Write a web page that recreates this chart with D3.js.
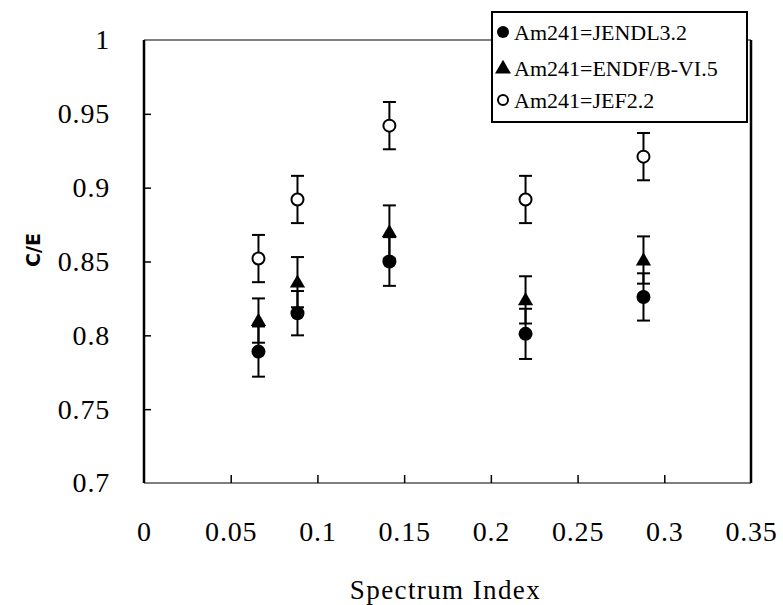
<!DOCTYPE html>
<html>
<head>
<meta charset="utf-8">
<script src="https://cdn.jsdelivr.net/npm/d3@7"></script>
<style>
  body { margin: 0; background: #fff; }
  svg { display: block; }
</style>
</head>
<body>
<svg id="chart" width="783" height="605"></svg>
<script>
  'use strict'

  // data
  var spectrumIndex = [0.066, 0.0885, 0.1415, 0.220, 0.288]
  var jendl = [0.789, 0.815, 0.850, 0.801, 0.826]
  var jendlErr = [0.017, 0.015, 0.0165, 0.017, 0.016]
  var endf = [0.810, 0.836, 0.870, 0.824, 0.851]
  var endfErr = [0.015, 0.017, 0.018, 0.016, 0.016]
  var jef = [0.852, 0.892, 0.942, 0.892, 0.921]
  var jefErr = [0.016, 0.016, 0.016, 0.016, 0.016]
  var xTicks = [0, 0.05, 0.1, 0.15, 0.2, 0.25, 0.3, 0.35]
  var yTicks = [0.7, 0.75, 0.8, 0.85, 0.9, 0.95, 1]
  var seriesNames = ['Am241=JENDL3.2', 'Am241=ENDF/B-VI.5', 'Am241=JEF2.2']

  var series = [
    { name: seriesNames[0], values: jendl, err: jendlErr, marker: 'dot' },
    { name: seriesNames[1], values: endf, err: endfErr, marker: 'tri' },
    { name: seriesNames[2], values: jef, err: jefErr, marker: 'ring' }
  ]

  var margin = { top: 40, right: 32, bottom: 122, left: 144 }
  var svg = d3.select('#chart')
  var width = 783 - margin.left - margin.right
  var height = 605 - margin.top - margin.bottom

  var x = d3.scaleLinear().domain([0, 0.35]).range([0, width])
  var y = d3.scaleLinear().domain([0.7, 1]).range([height, 0])

  var g = svg.append('g').attr('transform', 'translate(' + margin.left + ',' + margin.top + ')')

  var tickFont = '"Liberation Serif", "Times New Roman", serif'
  function fmt (d) { return String(d) }

  // frame: heavy sides, thin greyish top/bottom
  g.append('line').attr('x1', 0).attr('x2', width).attr('y1', 0).attr('y2', 0)
    .attr('stroke', '#555').attr('stroke-width', 1.5)
  g.append('line').attr('x1', 0).attr('x2', width).attr('y1', height).attr('y2', height)
    .attr('stroke', '#555').attr('stroke-width', 1.5)
  g.append('line').attr('x1', 0).attr('x2', 0).attr('y1', 0).attr('y2', height)
    .attr('stroke', '#000').attr('stroke-width', 2.5)
  g.append('line').attr('x1', width).attr('x2', width).attr('y1', 0).attr('y2', height)
    .attr('stroke', '#000').attr('stroke-width', 2.5)

  // axes with inward ticks
  var xAxis = g.append('g').attr('transform', 'translate(0,' + height + ')')
    .call(d3.axisBottom(x).tickValues(xTicks).tickSize(-8).tickPadding(38).tickFormat(fmt))
  var yAxis = g.append('g')
    .call(d3.axisLeft(y).tickValues(yTicks).tickSize(-7).tickPadding(34).tickFormat(fmt))

  ;[xAxis, yAxis].forEach(function (ax) {
    ax.select('.domain').remove()
    ax.selectAll('.tick line').attr('stroke', '#000').attr('stroke-width', 1.5)
    ax.selectAll('.tick text')
      .attr('fill', '#000')
      .style('font-family', tickFont)
      .style('font-size', '28px')
      .style('letter-spacing', '0.8px')
  })
  xAxis.selectAll('.tick line').filter(function (d) { return d === 0 || d === 0.35 }).remove()
  yAxis.selectAll('.tick line').filter(function (d) { return d === 0.7 || d === 1 }).remove()

  // axis titles
  svg.append('text')
    .attr('x', margin.left + width / 2 - 2)
    .attr('y', 599)
    .attr('text-anchor', 'middle')
    .style('font-family', tickFont)
    .style('font-size', '27px')
    .style('letter-spacing', '1.4px')
    .text('Spectrum Index')

  svg.append('text')
    .attr('transform', 'translate(40,250) rotate(-90)')
    .attr('text-anchor', 'middle')
    .style('font-family', '"DejaVu Sans", sans-serif')
    .style('font-weight', 'bold')
    .style('font-size', '19px')
    .text('C/E')

  var triangle = d3.symbol().type(d3.symbolTriangle).size(100)

  function drawMarker (sel, kind) {
    if (kind === 'dot') {
      sel.append('circle').attr('r', 7).attr('fill', '#000')
    } else if (kind === 'tri') {
      sel.append('path').attr('d', triangle).attr('fill', '#000').attr('transform', 'translate(0,1)')
    } else {
      sel.append('circle').attr('r', 6).attr('fill', '#fff').attr('stroke', '#000').attr('stroke-width', 2)
    }
  }

  var capHalf = 6.5

  // error bars first, markers on top
  series.forEach(function (s) {
    var bars = g.append('g').selectAll('g.err')
      .data(s.values.map(function (v, i) { return { x: spectrumIndex[i], v: v, e: s.err[i] } }))
      .join('g').attr('class', 'err')
    bars.append('line')
      .attr('x1', function (d) { return x(d.x) }).attr('x2', function (d) { return x(d.x) })
      .attr('y1', function (d) { return y(d.v - d.e) }).attr('y2', function (d) { return y(d.v + d.e) })
      .attr('stroke', '#000').attr('stroke-width', 2)
    bars.append('line')
      .attr('x1', function (d) { return x(d.x) - capHalf }).attr('x2', function (d) { return x(d.x) + capHalf })
      .attr('y1', function (d) { return y(d.v + d.e) }).attr('y2', function (d) { return y(d.v + d.e) })
      .attr('stroke', '#000').attr('stroke-width', 2)
    bars.append('line')
      .attr('x1', function (d) { return x(d.x) - capHalf }).attr('x2', function (d) { return x(d.x) + capHalf })
      .attr('y1', function (d) { return y(d.v - d.e) }).attr('y2', function (d) { return y(d.v - d.e) })
      .attr('stroke', '#000').attr('stroke-width', 2)
  })

  series.forEach(function (s) {
    g.append('g').selectAll('g.pt')
      .data(s.values.map(function (v, i) { return { x: spectrumIndex[i], v: v } }))
      .join('g').attr('class', 'pt')
      .attr('transform', function (d) { return 'translate(' + x(d.x) + ',' + y(d.v) + ')' })
      .each(function () { drawMarker(d3.select(this), s.marker) })
  })

  // legend box, sits over the top right corner of the frame
  var legend = svg.append('g').attr('transform', 'translate(492,12)')
  legend.append('rect').attr('width', 255).attr('height', 110)
    .attr('fill', '#fff').attr('stroke', '#000').attr('stroke-width', 2)
  var rowY = [20, 56, 88]
  series.forEach(function (s, i) {
    var row = legend.append('g').attr('transform', 'translate(11,' + rowY[i] + ')')
    if (s.marker === 'dot') row.append('circle').attr('r', 6).attr('fill', '#000')
    else if (s.marker === 'tri') row.append('path').attr('d', d3.symbol().type(d3.symbolTriangle).size(110)).attr('fill', '#000').attr('transform', 'translate(0,1)')
    else row.append('circle').attr('r', 5).attr('fill', '#fff').attr('stroke', '#000').attr('stroke-width', 2)
    row.append('text')
      .attr('x', 11).attr('y', 8)
      .style('font-family', tickFont)
      .style('font-size', '22px')
      .text(s.name)
  })
</script>
</body>
</html>
